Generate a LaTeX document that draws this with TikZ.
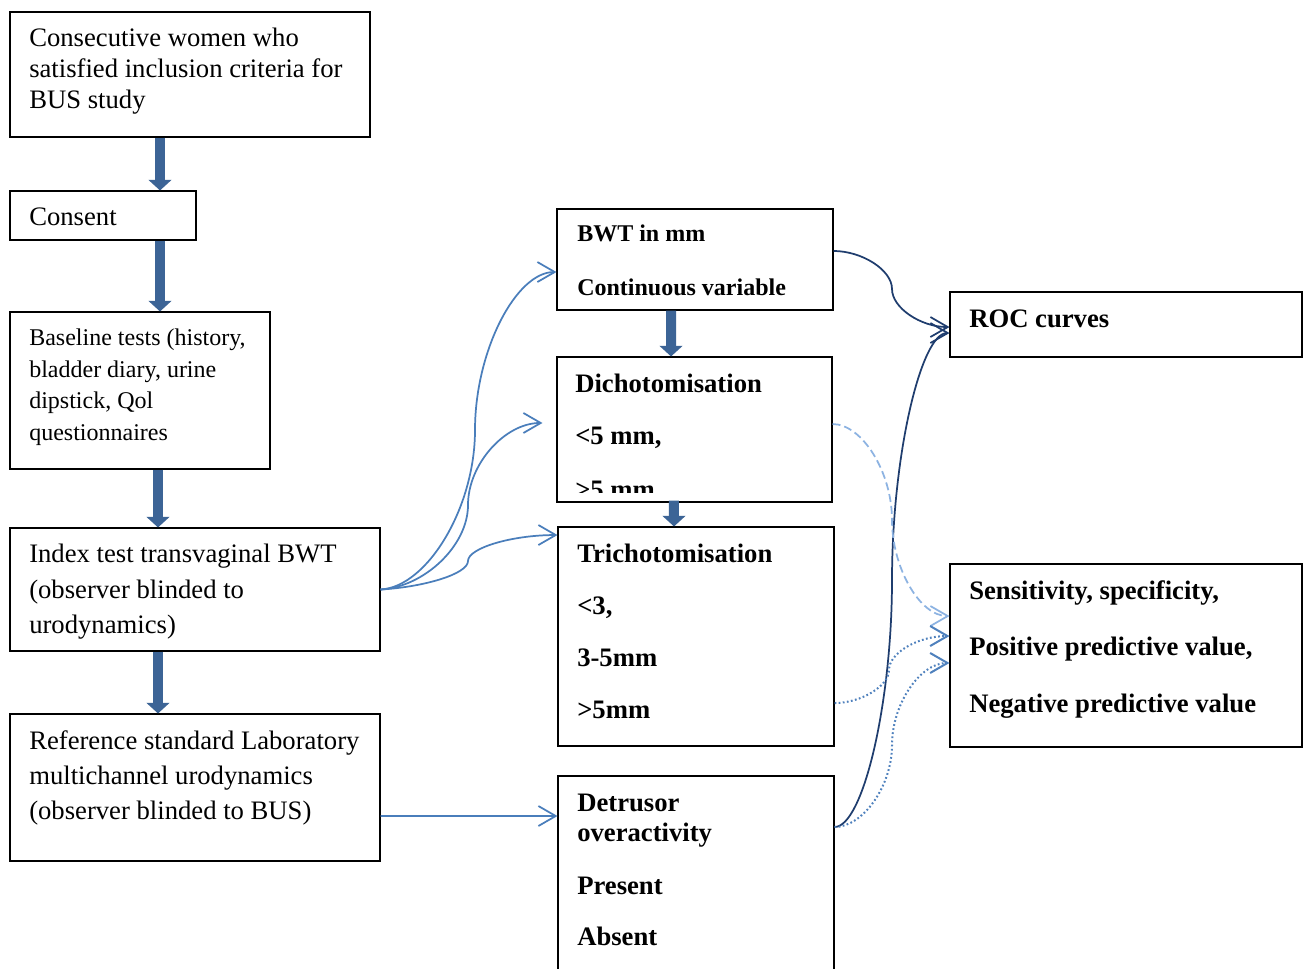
\documentclass[tikz,border=0pt]{standalone}
\usepackage{fontspec}
\setmainfont{Liberation Serif}
\usetikzlibrary{arrows.meta}
\definecolor{thickblue}{HTML}{3C6496}
\definecolor{thinblue}{HTML}{4A7EBB}
\definecolor{navy}{HTML}{1F3D6E}
\definecolor{lightblue}{HTML}{8DB3E2}
\definecolor{dotblue}{HTML}{4F81BD}
\begin{document}
\begin{tikzpicture}[x=0.75pt,y=-0.75pt,
  box/.style={draw=black, line width=0.8pt, inner sep=0pt, fill=none},
  txt/.style={anchor=base west, inner sep=0pt, font=\fontsize{20pt}{24pt}\selectfont},
  txts/.style={anchor=base west, inner sep=0pt, font=\fontsize{18pt}{22pt}\selectfont},
  btxt/.style={anchor=base west, inner sep=0pt, font=\fontsize{20pt}{24pt}\selectfont\bfseries},
  btxts/.style={anchor=base west, inner sep=0pt, font=\fontsize{18pt}{22pt}\selectfont\bfseries},
  blockarrow/.style={draw=thickblue, line width=7.5pt, -{Triangle[width=17pt,length=8pt]}},
  barb/.style={-{Straight Barb[length=13pt,width=15pt]}, line width=1.3pt},
  thinconn/.style={barb, draw=thinblue},
  navyconn/.style={barb, draw=navy},
  dashconn/.style={barb, draw=lightblue, dash pattern=on 6pt off 3pt},
  dotconn/.style={barb, draw=dotblue, line width=1.5pt, dash pattern=on 1.3pt off 1.8pt}
]
\clip (0,0) rectangle (1308,968);
\fill[white] (0,0) rectangle (1308,968);

% left column boxes
\node[box, minimum width=270pt, minimum height=93.75pt] (b1) at (190,74.5) {};
\node[box, minimum width=139.5pt, minimum height=36.75pt] (b2) at (103,215.5) {};
\node[box, minimum width=195pt, minimum height=117.75pt] (b3) at (140,390.5) {};
\node[box, minimum width=277.5pt, minimum height=92.25pt] (b4) at (195,589.5) {};
\node[box, minimum width=277.5pt, minimum height=110.25pt] (b5) at (195,787.5) {};
% middle column boxes
\node[box, minimum width=207pt, minimum height=75.75pt] (b6) at (695,259.5) {};
\node[box, minimum width=206.25pt, minimum height=108.75pt] (b7) at (694.5,429.5) {};
\node[box, minimum width=207pt, minimum height=164.25pt] (b8) at (696,636.5) {};
\node[box, minimum width=207pt, minimum height=160.5pt] (b9) at (696,883) {};
% right column boxes
\node[box, minimum width=264pt, minimum height=48.75pt] (b10) at (1126,324.5) {};
\node[box, minimum width=264pt, minimum height=137.25pt] (b11) at (1126,655.5) {};

% texts
\node[txt] (t1a) at (29,46) {Consecutive women who};
\node[txt] (t1b) at (29,77) {satisfied inclusion criteria for};
\node[txt] (t1c) at (29,108) {BUS study};
\node[txt] (t2a) at (29,225) {Consent};
\node[txts] (t3a) at (29,345) {Baseline tests (history,};
\node[txts] (t3b) at (29,377) {bladder diary, urine};
\node[txts] (t3c) at (29,408) {dipstick, Qol};
\node[txts] (t3d) at (29,440) {questionnaires};
\node[txt] (t4a) at (29,562) {Index test transvaginal BWT};
\node[txt] (t4b) at (29,598) {(observer blinded to};
\node[txt] (t4c) at (29,633) {urodynamics)};
\node[txt] (t5a) at (29,749) {Reference standard Laboratory};
\node[txt] (t5b) at (29,784) {multichannel urodynamics};
\node[txt] (t5c) at (29,819) {(observer blinded to BUS)};

\node[btxts] (t6a) at (577,241) {BWT in mm};
\node[btxts] (t6b) at (577,295) {Continuous variable};
\node[btxt] (t7a) at (575,392) {Dichotomisation};
\node[btxt] (t7b) at (575,444) {<5 mm,};
\begin{scope}
  \clip (557,357) rectangle (832,492);
  \node[btxt] (t7c) at (575,498) {>5 mm};
\end{scope}
\node[btxt] (t8a) at (577,562) {Trichotomisation};
\node[btxt] (t8b) at (577,614) {<3,};
\node[btxt] (t8c) at (577,666) {3-5mm};
\node[btxt] (t8d) at (577,718) {>5mm};
\node[btxt] (t9a) at (577,811) {Detrusor};
\node[btxt] (t9b) at (577,841) {overactivity};
\node[btxt] (t9c) at (577,894) {Present};
\node[btxt] (t9d) at (577,945) {Absent};
\node[btxt] (t10a) at (969,327) {ROC curves};
\node[btxt] (t11a) at (969,599) {Sensitivity, specificity,};
\node[btxt] (t11b) at (969,655) {Positive predictive value,};
\node[btxt] (t11c) at (969,712) {Negative predictive value};

% block arrows
\draw[blockarrow] ([xshift=-22.5pt]b1.south) -- ([xshift=42.75pt]b2.north);
\draw[blockarrow] ([xshift=42.75pt]b2.south) -- ([xshift=15pt]b3.north);
\draw[blockarrow] ([xshift=13.5pt]b3.south) -- ([xshift=-27.75pt]b4.north);
\draw[blockarrow] ([xshift=-27.75pt]b4.south) -- ([xshift=-27.75pt]b5.north);
\draw[blockarrow] ([xshift=-18pt]b6.south) -- ([xshift=-17.6pt]b7.north);
\draw[blockarrow] ([xshift=-15.4pt,yshift=1.5pt]b7.south) -- ([xshift=-16.5pt]b8.north);

% thin blue connectors from index test
\draw[thinconn] (b4.east) .. controls (427,587) and (475,508) .. (475,430)
  .. controls (475,351) and (516,272) .. ([yshift=-9.4pt]b6.west);
\draw[thinconn] (b4.east) .. controls (424,587) and (468,546) .. (468,505)
  .. controls (468,464) and (505,423) .. ([xshift=-10.5pt,yshift=4.9pt]b7.west);
\draw[thinconn] (b4.east) .. controls (424,587) and (468,574) .. (468,561)
  .. controls (468,548) and (512,535) .. ([yshift=76.1pt]b8.west);
\draw[thinconn] ([yshift=-21.4pt]b5.east) -- ([yshift=50.25pt]b9.west);

% navy connectors to ROC
\draw[navyconn] ([yshift=6.4pt]b6.east) .. controls (862,251) and (892,270) .. (892,289)
  .. controls (892,308) and (921,327) .. ([yshift=-1.9pt]b10.west);
\draw[navyconn] ([yshift=42pt]b9.east) .. controls (863,827) and (892,703) .. (892,580)
  .. controls (892,456) and (921,333) .. ([yshift=-6.4pt]b10.west);

% to sensitivity box
\draw[dashconn] ([yshift=4.1pt]b7.east) .. controls (862,424) and (892,472) .. (892,520)
  .. controls (892,568) and (920,616) .. ([yshift=29.6pt]b11.west);
\draw[dotconn] ([yshift=-49.9pt]b8.east) .. controls (861,703) and (889,686) .. (889,670)
  .. controls (889,653) and (918,636) .. ([yshift=14.6pt]b11.west);
\draw[dotconn] ([yshift=42pt]b9.east) .. controls (863,827) and (892,786) .. (892,745)
  .. controls (892,704) and (920,663) .. ([yshift=-5.6pt]b11.west);
\end{tikzpicture}
\end{document}
